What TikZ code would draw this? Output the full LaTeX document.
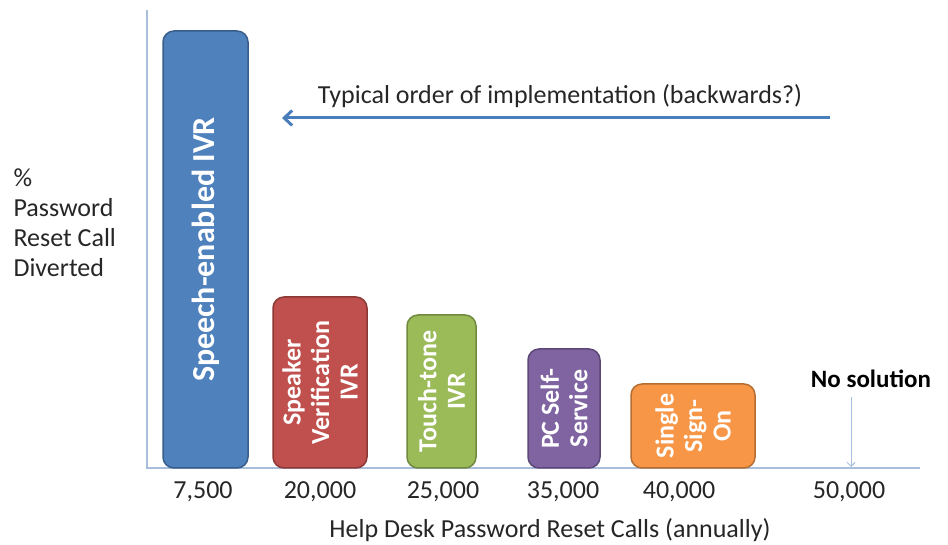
\documentclass[tikz,border=0pt]{standalone}
\usepackage{fontspec}
\setmainfont{Carlito}
\usepackage{tikz}
\usetikzlibrary{arrows.meta}
\definecolor{barblue}{HTML}{4F81BD}
\definecolor{barblueedge}{HTML}{385D8A}
\definecolor{barred}{HTML}{C0504D}
\definecolor{barrededge}{HTML}{8C3836}
\definecolor{bargreen}{HTML}{9BBB59}
\definecolor{bargreenedge}{HTML}{71893F}
\definecolor{barpurple}{HTML}{8064A2}
\definecolor{barpurpleedge}{HTML}{5C4776}
\definecolor{barorange}{HTML}{F79646}
\definecolor{barorangeedge}{HTML}{B66D31}
\definecolor{axisline}{HTML}{A7BEDC}
\definecolor{orderarrow}{HTML}{4A7EBB}
\definecolor{txtgray}{HTML}{262626}
\tikzset{>={Straight Barb[length=8pt,width=15pt]}}

\begin{document}
\begin{tikzpicture}[x=1pt,y=1pt,
    bar/.style 2 args={draw=#2,fill=#1,line width=1.5pt,rounded corners=11pt,rotate=90,
      text=white,font=\fontsize{26}{28.5}\selectfont\bfseries,align=center,inner sep=0pt},
    lbl/.style={font=\fontsize{26}{30}\selectfont,text=txtgray}]
    \useasboundingbox (0,0) rectangle (948,545);

    % axes
    \draw[axisline,line width=1.3pt] (147,535)--(147,77)--(920,77);

    % bars
    \node[bar={barblue}{barblueedge},minimum width=437pt,minimum height=85pt] (speech) at (205.5,295.5)
        {\fontsize{32}{32}\selectfont Speech-enabled IVR};
    \node[bar={barred}{barrededge},minimum width=171pt,minimum height=94pt] (speaker) at (320,162.5)
        {Speaker\\Verification\\IVR};
    \node[bar={bargreen}{bargreenedge},minimum width=153pt,minimum height=69pt] (touch) at (441.5,153.5)
        {Touch-tone\\IVR};
    \node[bar={barpurple}{barpurpleedge},minimum width=119pt,minimum height=72pt] (pcself) at (564,136.5)
        {PC Self-\\Service};
    \node[bar={barorange}{barorangeedge},minimum width=84pt,minimum height=124pt] (sso) at (693,119)
        {Single\\Sign-\\On};

    % call volumes under the bars
    \foreach \xpos/\calls/\name in {203/{7,500}/c1,320/{20,000}/c2,443/{25,000}/c3,
        563/{35,000}/c4,679/{40,000}/c5,849/{50,000}/c6}
      \node[lbl] (\name) at (\xpos,53) {\calls};

    \node[lbl] (xtitle) at (550,15) {Help Desk Password Reset Calls (annually)};
    \node[lbl,anchor=north west,align=left] (ytitle) at (10,380) {\%\\Password\\Reset Call\\Diverted};

    % order arrow
    \coordinate (orderstart) at (830,427);
    \coordinate (orderend) at (282,427);
    \draw[->,orderarrow,line width=3pt] (orderstart)--(orderend);
    \node[lbl] (order) at (560,449) {Typical order of implementation (backwards?)};

    % nothing at 50,000
    \node[lbl,font=\fontsize{25}{30}\selectfont\bfseries,text=black] (nosol) at (871,166) {No solution};
    \coordinate (nosolaxis) at (851,78);
    \draw[->,axisline,line width=1pt,>={Straight Barb[length=4pt,width=8pt]}]
        (nosol.south -| nosolaxis)++(0,-6) -- (nosolaxis);
\end{tikzpicture}
\end{document}
